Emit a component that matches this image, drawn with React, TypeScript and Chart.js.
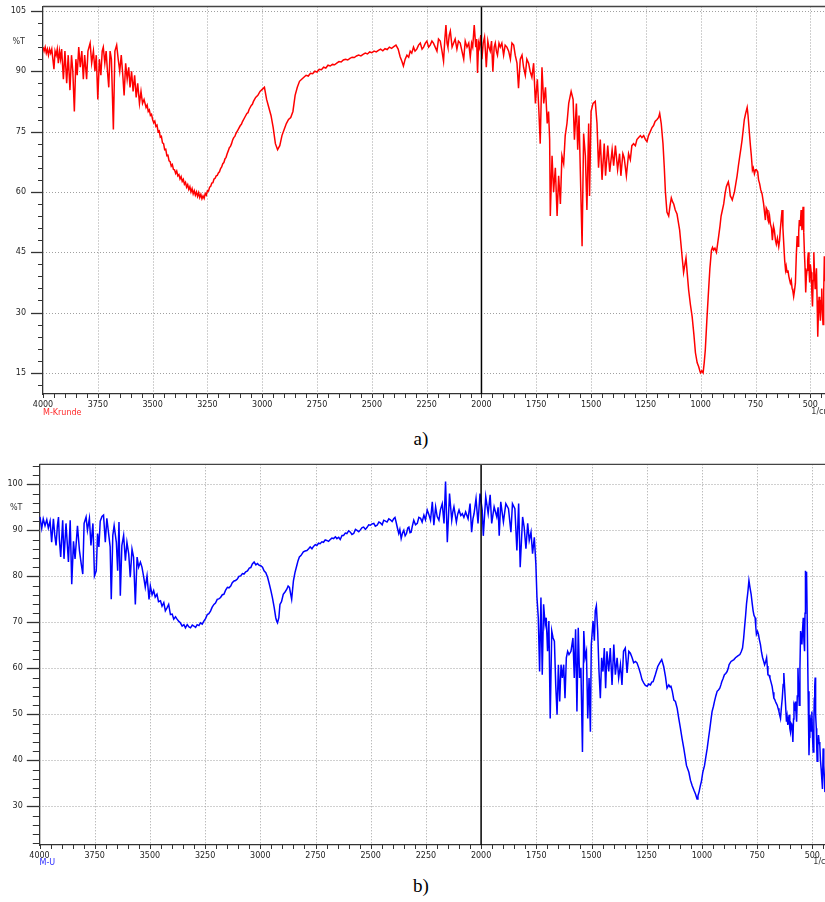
import React, { useEffect, useRef } from 'react';
import { Chart, registerables } from 'chart.js';

Chart.register(...registerables);

type Pt = [number, number];

const SPECTRUM_A_NAME = 'M-Krunde';
const SPECTRUM_B_NAME = 'M-U';
const X_UNIT = '1/cm';
const Y_UNIT = '%T';
const X_LABEL_VALUES = [4000, 3750, 3500, 3250, 3000, 2750, 2500, 2250, 2000, 1750, 1500, 1250, 1000, 750, 500];
const X_MINOR_STEP = 50;
const A_Y_LABELS = [15, 30, 45, 60, 75, 90, 105];
const B_Y_LABELS = [30, 40, 50, 60, 70, 80, 90, 100];

// Spectrum a) : [wavenumber (1/cm), %T]
const SPECTRUM_A_HIGH: Pt[] = [
  [4000,96],[3995,95],[3990,96],[3985,94.5],[3980,95.5],[3975,94],[3970,95.5],[3965,94.5],[3960,95.5],[3955,93],
  [3950,90.5],[3945,95],[3940,94],[3935,95.5],[3930,92],[3925,95],[3920,93],[3915,95.5],[3907,88],[3900,95],
  [3892,87],[3885,94],[3877,85.3],[3870,94],[3864,90],[3857,80],[3850,93],[3844,89],[3837,96],[3830,91],
  [3823,95],[3816,88],[3810,94],[3801,88],[3795,95],[3785,97],[3778,92],[3770,95],[3763,90],[3757,94],
  [3750,83],[3743,93],[3736,89],[3730,95],[3725,96],[3718,92],[3712,95],[3706,90],[3700,86],[3694,95],
  [3688,93],[3679,75.5],[3672,95],[3664,96.5],[3657,93],[3650,90],[3643,94],[3636,89],[3630,84],[3623,92],
  [3616,88],[3609,91],[3603,86],[3596,90],[3589,85],[3582,89],[3575,83.5],[3568,87],[3560,82],[3553,85],
  [3546,82],[3539,83],[3530,81],[3525,81.6],[3520,80],[3515,80.4],[3510,79],[3505,79.3],[3500,78],[3495,77.2],
  [3490,77.6],[3485,76.3],[3480,76.6],[3475,75],[3470,75.2],[3465,73.6],[3460,73.8],[3455,72.2],[3450,72],[3445,70.5],
  [3440,70.6],[3435,69],[3430,69.1],[3425,67.7],[3420,67.5],[3415,66.4],[3410,66.8],[3405,65.6],[3400,65.5],[3395,64.6],
  [3390,65.2],[3385,64],[3380,64.3],[3375,63.2],[3370,63.8],[3365,62.6],[3360,63.1],[3355,61.9],[3350,62.4],[3345,61.2],
  [3340,61.8],[3335,60.6],[3330,61.3],[3325,60],[3320,60.8],[3315,59.5],[3310,60.3],[3305,59.2],[3300,60],[3295,58.9],
  [3290,59.8],[3285,58.6],[3280,59.4],[3275,58.3],[3270,59],[3265,58.4],[3260,59.6],[3255,59.2],[3250,60.3],[3245,60.2],
  [3240,61.2],[3235,61.4],[3230,62.2],[3225,62.3],[3220,63.2],[3215,63.4],[3210,64],[3205,64.1],[3200,64.7],[3195,65],
  [3190,65.8],[3185,66.2],[3180,67],[3175,67.3],[3170,68.2],[3165,68.6],[3160,69.5],[3155,70.2],[3150,71],[3145,71.3],
  [3140,72],[3135,72.9],[3130,73.5],[3125,73.8],[3120,74.5],[3110,75.5],[3100,76.5],[3095,76.8],[3090,77.5],[3080,78.5],
  [3070,79.5],[3065,79.7],[3060,80.5],[3050,81.5],[3045,81.8],[3040,82.5],[3030,83.5],[3020,84],[3010,85],[3000,85.5],
  [2990,86],[2980,83],[2970,81],[2960,79],[2950,76],[2940,72],[2930,70.5],[2920,71.5],[2910,74],[2900,75.5],
  [2890,77],[2880,78],[2870,78.5],[2860,80],[2850,84],[2840,86],[2830,87.5],[2820,88],[2810,88.5],[2800,89],
  [2790,88.8],[2780,89.5],[2770,89.4],[2760,90],[2750,89.8],[2740,90.5],[2730,90.4],[2720,91],[2710,90.8],[2700,91.5],
  [2690,91.3],[2680,91.7],[2670,91.6],[2660,92],[2650,92.4],[2640,92.3],[2630,92.8],[2620,93],[2610,92.8],[2600,93.2],
  [2590,93.5],[2580,93.4],[2570,93.8],[2560,94],[2550,93.8],[2540,94.2],[2530,94.5],[2520,94.3],[2510,94.8],[2500,94.6],
  [2490,95],[2480,94.8],[2470,95.2],[2460,95.5],[2450,95.1],[2440,95.6],[2430,95.4],[2420,96],[2410,95.7],[2400,96.1],
  [2390,96.5],[2380,95.5],
];

const SPECTRUM_A_MID: Pt[] = [
  [2371,93.6],[2363,92.5],[2356,91.3],[2348,93],[2340,94],[2332,93.5],[2325,95],[2318,94.5],[2310,96],[2303,95],
  [2295,95.5],[2287,96.5],[2279,97],[2271,95.5],[2264,96],[2256,97],[2249,97.5],[2241,96],[2234,96.5],[2226,97.5],
  [2219,97],[2211,96],[2203,95],[2196,98],[2188,97.5],[2180,95],[2173,92.5],[2167,98],[2162,101.5],[2157,97],
  [2153,96],[2147,99],[2142,100],[2134,96],[2127,97],[2120,98],[2112,95.5],[2105,97.5],[2097,97],[2089,95],
  [2081,93],[2074,97.5],[2066,96],[2058,97],[2051,93.5],[2045,97],[2040,96],[2033,101.5],[2026,96],[2022,98],
  [2018,89.6],[2013,97],[2009,96],[2003,99],[1998,93],[1992,97],[1986,98.5],[1982,95],[1978,91],[1971,97.5],
  [1966,96],[1960,95],[1954,97.5],[1948,89.9],[1942,96],[1937,97],[1932,95],[1927,94],[1920,97],[1914,96],
  [1907,97],[1899,94],[1892,96.5],[1884,96],[1876,95],[1868,93],[1861,97],[1853,96.5],[1846,94],[1838,92],
  [1831,85.8],[1823,93],[1815,94],[1808,91],[1800,89],[1793,93],[1785,92],[1778,90],[1770,88.5],[1762,92],
];

const SPECTRUM_A_LOW: Pt[] = [
  [1754,82],[1745,88],[1738,80],[1732,72],[1724,91],[1716,82],[1708,86],[1700,77],[1694,80],[1689,73],
  [1686,54],[1678,69],[1671,60],[1663,66],[1655,54],[1648,64],[1640,57],[1633,69],[1625,67],[1618,74],
  [1610,77],[1602,82],[1591,85],[1582,83],[1576,73],[1567,82],[1561,70.5],[1555,79],[1549,65],[1541,46.5],
  [1534,74.5],[1526,69],[1519,55.5],[1511,77],[1507,59],[1500,80],[1491,82],[1481,82.5],[1473,77],[1466,66],
  [1458,73],[1450,63],[1440,72],[1434,64],[1424,71.5],[1415,65],[1404,70.5],[1397,66.5],[1389,71.5],[1379,65.5],
  [1370,69.5],[1364,64],[1355,69.5],[1349,68.5],[1339,64],[1329,69.5],[1321,68],[1314,71.5],[1306,72],[1298,71.5],
  [1291,73],[1283,73.5],[1275,74],[1268,73.5],[1260,74],[1252,73],[1245,72.5],[1238,74],[1230,75],[1222,76],
  [1215,76.5],[1208,77.5],[1199,78],[1192,78.5],[1187,79.5],[1180,77],[1172,72],[1166,66],[1161,60],[1154,55],
  [1146,54],[1140,56.5],[1134,58.5],[1128,57.5],[1123,57],[1116,55.5],[1108,54.5],[1102,52.5],[1096,50.5],[1090,47],
  [1085,44],[1078,40],[1072,42],[1067,43.6],[1061,39.5],[1055,35.6],[1047,32],[1039,29],[1031,24.5],[1024,20],
  [1016,17.5],[1009,16.5],[1004,15.5],[1001,15],[995,15.5],[989,15],[984,17.5],[979,20.7],[972,28],[964,35.6],
  [958,41],[951,45.5],[946,46.2],[941,45.5],[935,46],[928,45],[923,47],[918,49],[912,51.5],[907,54],
  [901,55.5],[895,57],[889,59.5],[883,61.3],[878,62],[874,62.5],[869,61],[865,59],[860,58.5],[856,58],
  [851,59],[846,60],[840,62],[834,64],[828,66.5],[822,68.8],[816,71],[811,73],[806,75.5],[801,78],
  [795,79.5],[788,81],[784,79],[779,75.5],[774,72],[769,69],[764,65.4],[760,66],[755,64.5],[750,65.5],
  [746,65.5],[740,65],[736,63],[731,62],[726,60.5],[720,59.5],[713,57],[709,55],[705,53],[701,56],
  [697,55.5],[693,53],[690,52.5],[686,54],[682,52],[677,51],[673,48],[668,51.5],[664,50.5],[659,48],
  [655,47],[650,48.5],[644,46.4],[640,48],[637,50.5],[633,53],[629,55.5],[625,51],[621,47],[617,43],
  [613,40.6],[610,41.5],[606,40],[602,40.5],[598,39],[594,38],[591,37.3],[587,38],[583,36],[580,35.5],
  [576,34],[572,35.5],[568,37.3],[564,44],[560,49],[556,46.5],[553,50],[550,53],[546,51.5],[542,55.5],
  [538,50.5],[533,56.3],[530,50],[527,45],[524,41],[521,35],[518,39],[515,40.5],[512,43],[509,45],
  [506,41],[503,37.5],[500,42],[496,40],[493,35],[490,31.5],[487,38],[484,45],[481,40],[478,36],
  [475,38],[472,41],[469,33],[466,24],[463,30],[460,33.9],[457,31],[454,28],[451,33],[448,36],
  [445,30],[442,27],[439,35],[436,44],[433,38],[430,42],
];

// Spectrum b) : [wavenumber (1/cm), %T]
const SPECTRUM_B_HIGH: Pt[] = [
  [4000,92.5],[3998,92.9],[3990,90.4],[3983,92.5],[3975,91],[3967,92.3],[3960,90.5],[3952,92],[3945,87.4],[3937,92.5],
  [3931,89],[3925,86.7],[3919,91],[3914,92.9],[3910,88],[3904,84.2],[3895,92.2],[3889,83.8],[3880,91.5],[3869,83.1],
  [3861,92.2],[3854,78.3],[3846,87.6],[3839,83.8],[3828,91],[3819,85.6],[3811,82.7],[3804,80.5],[3798,91.5],[3789,92.9],
  [3783,90],[3774,92.6],[3767,86.7],[3758,91.5],[3751,80.1],[3743,81.2],[3737,89.3],[3731,86.4],[3725,92],[3717,93],
  [3710,93.3],[3702,87.4],[3695,92.6],[3687,89.3],[3680,86.4],[3675,75],[3668,88.9],[3662,91],[3652,87.4],[3646,81.2],
  [3640,91.8],[3634,75.8],[3627,86.7],[3619,88.9],[3611,83.4],[3604,87.4],[3596,84.9],[3589,79.8],[3581,85.9],[3574,84.2],
  [3566,73.9],[3558,84.2],[3551,82],[3543,83.1],[3536,82],[3528,79.8],[3521,77.6],[3513,80.1],[3504,75],[3498,77.9],
  [3490,76],[3483,76.9],[3476,75.5],[3468,76.1],[3461,74.5],[3452,74.7],[3445,73.5],[3437,74.3],[3430,72.5],[3422,73.2],
  [3415,73.9],[3407,71.7],[3399,71.8],[3392,70.7],[3384,71.2],[3377,70.7],[3369,70.2],[3362,69.9],[3354,69.2],[3346,69.5],
  [3339,68.8],[3331,69.5],[3323,69],[3316,68.8],[3308,69.4],[3301,69.2],[3293,68.9],[3286,69.5],[3278,69.3],[3271,69.9],
  [3263,69.6],[3255,70.3],[3248,70.8],[3240,71.7],[3233,71.9],[3225,72.5],[3218,73.3],[3210,73.9],[3203,74.2],[3195,75],
  [3188,75.1],[3180,75.4],[3172,76],[3165,76.1],[3157,77],[3149,77.6],[3142,77.5],[3134,77.9],[3127,78.6],[3119,79],
  [3112,79.1],[3104,79.4],[3097,80],[3089,80.1],[3081,80.6],[3074,80.5],[3066,81],[3058,81.2],[3050,81.8],[3043,81.9],
  [3036,82.7],[3028,83.1],[3020,82.5],[3013,82.8],[3005,82.4],[2998,82.3],[2990,82],[2983,81.2],[2975,80.8],[2967,79.8],
  [2960,78.5],[2952,76.9],[2945,75.3],[2937,73.2],[2930,71],[2926,70.3],[2922,69.9],[2916,71],[2911,73.9],[2904,74.5],
  [2896,76.1],[2888,76.6],[2880,77.2],[2874,77.9],[2868,77.6],[2862,76],[2858,75],[2850,79],[2843,80.8],[2835,82.3],
  [2829,83.4],[2823,84.2],[2816,84.5],[2805,85.3],[2797,85.5],[2789,85.6],[2781,86],[2774,86.4],[2766,86],[2759,86.5],
  [2751,86.9],[2744,86.7],[2736,87.2],[2729,87.1],[2721,87.5],[2714,87.4],[2706,87.9],[2699,87.8],[2691,87.6],[2683,88],
  [2676,88.3],[2668,88.2],[2660,88.6],[2653,88.2],[2645,88.5],[2638,88],[2630,88.9],[2623,88.9],[2615,89.4],[2608,89.3],
  [2600,89.9],[2592,89.6],[2585,89.1],[2577,89.3],[2569,90.2],[2562,90],[2554,89.7],[2547,90.1],[2539,90.6],[2532,90.7],
  [2524,90.2],[2517,90.6],[2509,91.2],[2502,91.1],[2494,91.4],[2486,91.5],[2479,90.9],[2471,91.1],[2463,91.8],[2456,91.6],
  [2448,91.2],[2441,92.2],[2433,92],[2426,91.8],[2418,92.5],[2411,92.3],[2403,91.9],[2396,92.5],[2390,92.8],[2385,91.8],
];

const SPECTRUM_B_MID: Pt[] = [
  [2379,90.5],[2373,89.3],[2368,90.2],[2362,88.2],[2356,89.4],[2350,90],[2344,88.8],[2338,89.3],[2332,90.5],[2327,90.7],
  [2322,89.5],[2317,89.6],[2311,91],[2305,92.2],[2297,91.2],[2289,91.5],[2282,92.8],[2274,92.6],[2267,91.8],[2259,93.3],
  [2252,92.3],[2244,94.4],[2237,93.5],[2229,92.2],[2221,96.2],[2214,91.1],[2206,95.1],[2199,93],[2191,92.2],[2184,94.5],
  [2176,95.8],[2168,91.5],[2161,100.6],[2153,87.4],[2143,98],[2133,92.2],[2128,94],[2123,95.1],[2112,91.8],[2106,93.5],
  [2100,94.4],[2092,93.2],[2085,93.6],[2078,92.8],[2070,94],[2059,92.5],[2050,95.8],[2043,89.6],[2037,92.5],[2032,93.6],
  [2023,96.9],[2014,91.5],[2005,98],[1995,94.4],[1990,88.8],[1979,97.3],[1968,93.6],[1959,97.7],[1952,91.5],[1941,95.1],
  [1929,92.9],[1923,95],[1918,88.8],[1911,96.2],[1899,91.8],[1888,95.8],[1876,94.7],[1865,89.6],[1858,95.8],[1847,94.7],
  [1838,85.6],[1830,95.8],[1823,82],[1812,92.9],[1805,90.7],[1797,86],[1789,91.5],[1782,87.8],[1774,89.6],[1767,84.9],
  [1759,88.5],[1752,82.7],
];

const SPECTRUM_B_LOW: Pt[] = [
  [1747,75.4],[1741,71],[1735,59.3],[1729,75.4],[1723,58.6],[1717,73.9],[1710,69.5],[1705,71],[1699,63.7],[1693,70.3],
  [1687,49.1],[1680,68.1],[1674,66.6],[1668,65.9],[1662,56.4],[1656,49.9],[1650,60.8],[1644,52.8],[1638,60.8],[1632,57.9],
  [1626,60.8],[1620,53.5],[1614,62.3],[1608,63.7],[1602,63],[1593,63.7],[1584,66.6],[1578,57.9],[1572,68.5],[1566,50.6],
  [1560,68.8],[1554,57.9],[1548,60.1],[1541,41.8],[1535,68.1],[1529,62.3],[1523,63.7],[1517,49.1],[1511,57.9],[1505,46.2],
  [1501,65.2],[1493,70.3],[1487,66],[1483,72.5],[1478,73.6],[1472,68.1],[1466,59.3],[1460,53.5],[1454,62.3],[1448,59.3],
  [1442,64.4],[1436,55.7],[1430,63.7],[1422,59.3],[1415,64.4],[1407,56.4],[1399,65.2],[1392,58.6],[1384,62.3],[1377,57.9],
  [1369,60.8],[1362,56.4],[1355,63.7],[1347,64.4],[1339,59],[1331,63.7],[1324,63.3],[1316,62.3],[1309,61.2],[1301,61.5],
  [1294,61.2],[1286,60.1],[1279,59],[1271,57.5],[1263,56.8],[1256,56.3],[1248,56.1],[1241,56.6],[1233,56.4],[1227,57],
  [1221,57.1],[1211,58.6],[1200,60.4],[1191,61.2],[1182,61.9],[1173,60.4],[1165,58.2],[1158,55.7],[1150,56.4],[1145,56],
  [1140,56.1],[1134,55],[1127,53.1],[1120,52.8],[1112,51.3],[1105,49.2],[1097,46.9],[1090,44.8],[1082,42.6],[1076,40.8],
  [1070,38.9],[1059,37.4],[1052,35.7],[1044,34.5],[1036,33.5],[1029,32.7],[1022,31.6],[1018,32.3],[1013,33.1],[1007,34.5],
  [1002,35.5],[996,37.4],[988,38.9],[982,40.8],[976,42.6],[970,44.8],[964,46.9],[959,48.8],[954,50.6],[948,51.7],
  [943,52.8],[937,54],[931,55],[925,55.3],[919,55.7],[914,56.4],[910,57.1],[904,57.8],[898,58.6],[892,58.9],
  [886,59.3],[880,60.1],[877,60.8],[872,61.2],[868,61.5],[862,61.7],[855,61.9],[848,62.3],[840,62.6],[834,62.8],
  [828,63],[822,63.6],[816,64.4],[811,66.5],[807,68.8],[802,71.5],[798,74],[792,76.5],[787,79.1],[782,77.5],
  [777,76.1],[772,74],[768,72.5],[764,71.5],[759,71],[756,69],[753,67.4],[748,68],[744,67.4],[740,66.3],
  [735,65.2],[730,63.5],[725,62.3],[720,61.5],[716,60.8],[711,61.5],[707,62.3],[704,60.5],[701,58.6],[696,58.5],
  [692,57.9],[687,57],[682,56.1],[678,54.8],[674,53.5],[670,53.2],[667,52.8],[663,52.4],[659,52],[655,51.3],
  [651,50.6],[648,49.9],[644,49.1],[640,51.5],[636,53.5],[632,56.5],[629,59],[625,55.5],[621,52],[617,48.4],
  [614,49.5],[611,47.7],[608,48.5],[605,49.9],[602,47],[599,46.2],[596,48],[593,47.7],[590,46],[588,44],
  [585,49],[583,52],[580,51.5],[577,52.8],[574,50.5],[571,48.4],[568,54],[565,60.1],[562,55.5],[559,52],
  [556,60],[553,68.1],[550,67],[547,65.2],[544,68.5],[541,71],[538,66],[535,63.7],[533,72],[531,81.2],
  [528,78],[526,81],[523,70.3],[519,55],[515,41.1],[513,45],[511,49.9],[508,48],[506,46.2],[504,49],
  [502,50.6],[499,45],[496,41.8],[493,48],[491,53.5],[489,56],[487,58],[485,50],[482,47],[480,43],
  [478,39.8],[475,43],[472,45.5],[469,44],[466,43.3],[463,40],[460,38.2],[457,36],[454,33.8],[451,42.6],
  [448,38.9],[445,36],[443,33.1],[440,34],
];

const SPECTRUM_A: Pt[] = [...SPECTRUM_A_HIGH, ...SPECTRUM_A_MID, ...SPECTRUM_A_LOW];
const SPECTRUM_B: Pt[] = [...SPECTRUM_B_HIGH, ...SPECTRUM_B_MID, ...SPECTRUM_B_LOW];

const FONT = 'DejaVu Sans';

interface Panel {
  top: number;
  height: number;
  data: Pt[];
  color: string;
  name: string;
  nameColor: string;
  xMin: number;
  yMin: number;
  yMax: number;
  yLabels: number[];
  yMinorStep: number;
  axisLeft: number;
  padTop: number;
  axisBottomH: number;
  yLabelPad: number;
  xLabelPad: number;
  yMajorTick: number;
  yMinorTick: number;
  unitX: number;
  unitY: number;
  nameY: number;
  xUnitY: number;
}

const PANEL_A: Panel = {
  top: 0, height: 425, data: SPECTRUM_A, color: '#ff0000', name: SPECTRUM_A_NAME, nameColor: '#ff2a2a',
  xMin: 433, yMin: 9.75, yMax: 106.1, yLabels: A_Y_LABELS, yMinorStep: 3,
  axisLeft: 43, padTop: 6.5, axisBottomH: 31, yLabelPad: 17, xLabelPad: 5.7,
  yMajorTick: 12, yMinorTick: 5, unitX: 12.5, unitY: 42, nameY: 413, xUnitY: 412,
};

const PANEL_B: Panel = {
  top: 450, height: 425, data: SPECTRUM_B, color: '#0000ff', name: SPECTRUM_B_NAME, nameColor: '#2a2aff',
  xMin: 442.5, yMin: 21.6, yMax: 104.35, yLabels: B_Y_LABELS, yMinorStep: 2,
  axisLeft: 39.5, padTop: 14.3, axisBottomH: 30, yLabelPad: 16.7, xLabelPad: 5.9,
  yMajorTick: 12.7, yMinorTick: 6.7, unitX: 10, unitY: 57.7, nameY: 412.7, xUnitY: 412,
};

function makeDecor(p: Panel) {
  return {
    id: 'decor',
    beforeDatasetsDraw(chart: any) {
      const { ctx, chartArea: a, scales } = chart;
      const x = scales.x;
      const y = scales.y;
      ctx.save();
      ctx.strokeStyle = '#a0a0a0';
      ctx.lineWidth = 1;
      ctx.setLineDash([1, 2]);
      for (const v of p.yLabels) {
        const py = Math.round(y.getPixelForValue(v)) + 0.5;
        ctx.beginPath();
        ctx.moveTo(a.left, py);
        ctx.lineTo(a.right, py);
        ctx.stroke();
      }
      for (const v of X_LABEL_VALUES) {
        if (v === 4000 || v === 2000) continue;
        const px = Math.round(x.getPixelForValue(v)) + 0.5;
        ctx.beginPath();
        ctx.moveTo(px, a.top);
        ctx.lineTo(px, a.bottom);
        ctx.stroke();
      }
      ctx.restore();
    },
    afterDatasetsDraw(chart: any) {
      const { ctx, chartArea: a, scales } = chart;
      const x = scales.x;
      const y = scales.y;
      ctx.save();
      const p2000 = x.getPixelForValue(2000);
      ctx.strokeStyle = '#000';
      ctx.lineWidth = 1.5;
      ctx.beginPath();
      ctx.moveTo(p2000, a.top);
      ctx.lineTo(p2000, a.bottom);
      ctx.stroke();
      ctx.strokeStyle = '#444';
      ctx.lineWidth = 1.3;
      ctx.beginPath();
      ctx.moveTo(a.left, a.top);
      ctx.lineTo(a.right, a.top);
      ctx.stroke();
      ctx.strokeStyle = '#333';
      ctx.lineWidth = 1;
      for (let v = 4000; v >= p.xMin; v -= X_MINOR_STEP) {
        const px = Math.round(x.getPixelForValue(v)) + 0.5;
        ctx.beginPath();
        ctx.moveTo(px, a.bottom);
        ctx.lineTo(px, a.bottom + 4);
        ctx.stroke();
      }
      const top = p.yLabels[p.yLabels.length - 1];
      for (let v = top + p.yMinorStep * 5; v >= p.yMin; v -= p.yMinorStep) {
        if (v > p.yMax) continue;
        const major = p.yLabels.includes(Math.round(v * 1000) / 1000);
        const len = major ? p.yMajorTick : p.yMinorTick;
        const py = Math.round(y.getPixelForValue(v)) + 0.5;
        ctx.lineWidth = major ? 1.3 : 1;
        ctx.beginPath();
        ctx.moveTo(a.left - len, py);
        ctx.lineTo(a.left, py);
        ctx.stroke();
      }
      ctx.font = `8px "${FONT}"`;
      ctx.textBaseline = 'middle';
      ctx.textAlign = 'left';
      ctx.fillStyle = '#333';
      ctx.fillText(Y_UNIT, p.unitX, p.unitY);
      ctx.fillText(X_UNIT, x.getPixelForValue(500) + 1, p.xUnitY);
      ctx.fillStyle = p.nameColor;
      ctx.fillText(p.name, a.left, p.nameY);
      ctx.restore();
    },
  };
}

function SpectrumChart({ p }: { p: Panel }) {
  const ref = useRef<HTMLCanvasElement | null>(null);
  useEffect(() => {
    if (!ref.current) return;
    const chart = new Chart(ref.current, {
      type: 'line',
      data: {
        datasets: [
          {
            data: p.data.map(([w, t]) => ({ x: w, y: t })),
            borderColor: p.color,
            borderWidth: 1.5,
            pointRadius: 0,
            tension: 0,
            fill: false,
          },
        ],
      },
      options: {
        animation: false,
        responsive: false,
        maintainAspectRatio: false,
        devicePixelRatio: 1,
        layout: { padding: { top: p.padTop, left: 0, right: 0, bottom: 0 } },
        plugins: { legend: { display: false }, tooltip: { enabled: false } },
        scales: {
          x: {
            type: 'linear',
            reverse: true,
            min: p.xMin,
            max: 4000,
            afterBuildTicks: (s: any) => {
              s.ticks = X_LABEL_VALUES.map((v) => ({ value: v }));
            },
            afterFit: (s: any) => {
              s.height = p.axisBottomH;
              s.paddingLeft = 0;
              s.paddingRight = 0;
            },
            grid: { display: true, drawOnChartArea: false, drawTicks: false },
            border: { display: true, color: '#333', width: 1.3 },
            ticks: {
              autoSkip: false,
              maxRotation: 0,
              padding: p.xLabelPad,
              color: '#222',
              font: { family: FONT, size: 8 },
              callback: (v: any) => String(v),
            },
          },
          y: {
            type: 'linear',
            min: p.yMin,
            max: p.yMax,
            afterBuildTicks: (s: any) => {
              s.ticks = p.yLabels.map((v) => ({ value: v }));
            },
            afterFit: (s: any) => {
              s.width = p.axisLeft;
              s.paddingTop = 0;
              s.paddingBottom = 0;
            },
            grid: { display: true, drawOnChartArea: false, drawTicks: false },
            border: { display: true, color: '#333', width: 1.3 },
            ticks: {
              padding: p.yLabelPad,
              color: '#222',
              font: { family: FONT, size: 8 },
              callback: (v: any) => String(v),
            },
          },
        },
      },
      plugins: [makeDecor(p)],
    } as any);
    return () => chart.destroy();
  }, [p]);
  return (
    <canvas
      ref={ref}
      width={825}
      height={p.height}
      style={{ position: 'absolute', left: 0, top: p.top, width: 825, height: p.height, display: 'block' }}
    />
  );
}

const captionStyle = (top: number): React.CSSProperties => ({
  position: 'absolute',
  left: 0,
  top,
  width: 842,
  textAlign: 'center',
  fontFamily: '"Liberation Serif", "Times New Roman", serif',
  fontSize: 19,
  lineHeight: '20px',
  color: '#000',
});

export default function App() {
  return (
    <div style={{ position: 'absolute', left: 0, top: 0, width: 825, height: 902, background: '#fff', overflow: 'hidden' }}>
      <SpectrumChart p={PANEL_A} />
      <div style={captionStyle(429)}>a)</div>
      <SpectrumChart p={PANEL_B} />
      <div style={captionStyle(876)}>b)</div>
    </div>
  );
}
